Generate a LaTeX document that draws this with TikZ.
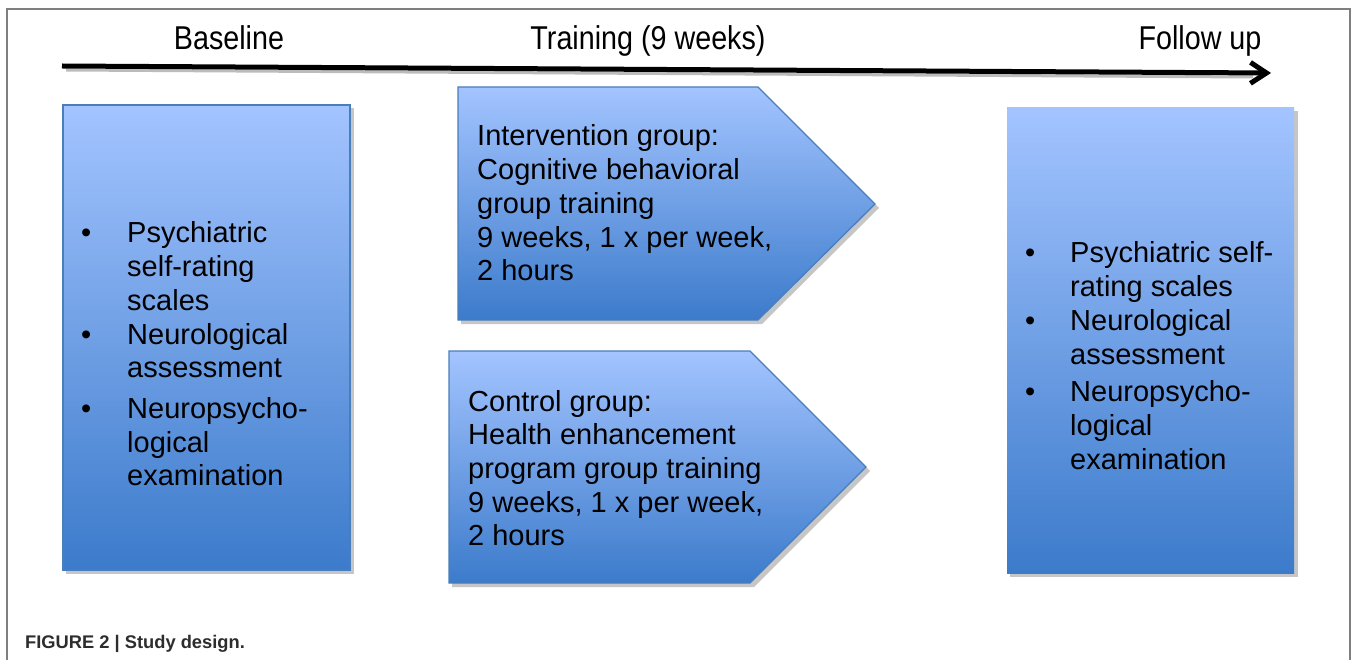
\documentclass[tikz,border=0pt]{standalone}
\usepackage{fontspec}
\setmainfont{Liberation Sans}
\newfontfamily\headfont{Liberation Sans}[FakeStretch=0.87]
\usetikzlibrary{arrows.meta}

\definecolor{boxtop}{HTML}{A3C4FF}
\definecolor{boxmid}{HTML}{7A98DD}
\definecolor{boxbot}{HTML}{3C7BCB}
\definecolor{boxline}{HTML}{4A7EBB}
\definecolor{framegray}{HTML}{7F7F7F}
\definecolor{shadowgray}{HTML}{A0A0A0}
\definecolor{captiontext}{HTML}{2D2D2D}

\newcommand\bulcell[1]{\makebox[#1][l]{\textbullet}}

\tikzset{
  panelfill/.style={top color=boxtop, middle color=boxmid, bottom color=boxbot},
  paneledge/.style={draw=boxline, line width=1.3pt, line join=miter},
  panelshadow/.style={fill=shadowgray, opacity=0.6},
  headtext/.style={inner sep=0pt, anchor=base, font=\headfont\fontsize{33}{38}\selectfont},
  bodytext/.style={inner sep=0pt, anchor=base west, text=black,
    font=\fontsize{29}{33.7}\selectfont},
}

\begin{document}
\begin{tikzpicture}[x=1pt, y=-1pt]
  \clip (0,0) rectangle (1357,660);
  \fill[white] (0,0) rectangle (1357,660);

  % outer frame of the figure
  \draw[framegray, line width=2pt] (7,9) rectangle (1350,700);

  % timeline headings
  \node[headtext] (hbase) at (229,50) {Baseline};
  \node[headtext] (htrain) at (648,50) {Training (9 weeks)};
  \node[headtext] (hfollow) at (1200,50) {Follow up};

  % timeline arrow with its soft shadow
  \coordinate (tstart) at (62,66);
  \coordinate (tend) at (1271,73);
  \draw[shadowgray!70, line width=3pt] ([shift={(4,4)}]tstart) -- ([shift={(-18,4)}]tend);
  \draw[black, line width=5pt,
        -{Straight Barb[length=16pt, width=21pt, line width=5pt]}] (tstart) -- (tend);

  % baseline panel
  \fill[panelshadow] (66,108) rectangle (354,574);
  \shade[panelfill] (63,105) rectangle (350,570);
  \draw[paneledge] (63,105) rectangle (350,570);
  \node[bodytext] (basetext) at (81,243) {%
    \begin{tabular}[t]{@{}l@{}l@{}}
      \bulcell{46pt} & Psychiatric\\
                     & self-rating\\
                     & scales\\
      \bulcell{46pt} & Neurological\\
                     & assessment\\[7pt]
      \bulcell{46pt} & Neuropsycho-\\
                     & logical\\
                     & examination
    \end{tabular}};

  % intervention group pentagon
  \fill[panelshadow] (461,91) -- (762,91) -- (879,208) -- (762,324) -- (461,324) -- cycle;
  \shade[panelfill] (458,87) -- (758,87) -- (875,204) -- (758,320) -- (458,320) -- cycle;
  \draw[paneledge] (458,87) -- (758,87) -- (875,204) -- (758,320) -- (458,320) -- cycle;
  \node[bodytext] (interv) at (477,146) {%
    \begin{tabular}[t]{@{}l@{}}
      Intervention group:\\
      Cognitive behavioral\\
      group training\\
      9 weeks, 1 x per week,\\
      2 hours
    \end{tabular}};

  % control group pentagon
  \fill[panelshadow] (452,355) -- (754,355) -- (870,471) -- (754,587) -- (452,587) -- cycle;
  \shade[panelfill] (449,351) -- (750,351) -- (866,467) -- (750,583) -- (449,583) -- cycle;
  \draw[paneledge] (449,351) -- (750,351) -- (866,467) -- (750,583) -- (449,583) -- cycle;
  \node[bodytext] (control) at (468,411) {%
    \begin{tabular}[t]{@{}l@{}}
      Control group:\\
      Health enhancement\\
      program group training\\
      9 weeks, 1 x per week,\\
      2 hours
    \end{tabular}};

  % follow-up panel
  \fill[panelshadow] (1010,111) rectangle (1298,577);
  \shade[panelfill] (1007,108) rectangle (1294,573);
  \node[bodytext] (followtext) at (1025,263) {%
    \begin{tabular}[t]{@{}l@{}l@{}}
      \bulcell{45pt} & Psychiatric self-\\
                     & rating scales\\
      \bulcell{45pt} & Neurological\\
                     & assessment\\[4pt]
      \bulcell{45pt} & Neuropsycho-\\
                     & logical\\
                     & examination
    \end{tabular}};

  % caption
  \node[inner sep=0pt, anchor=base west, text=captiontext,
        font=\bfseries\fontsize{18.3}{22}\selectfont] (caption) at (25,648)
        {FIGURE 2 | Study design.};
\end{tikzpicture}
\end{document}
